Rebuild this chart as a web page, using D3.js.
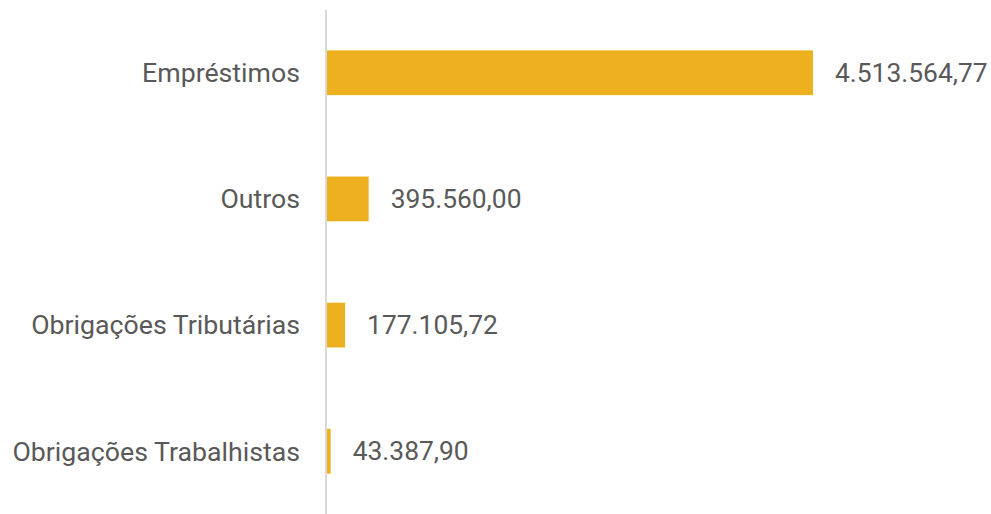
<!DOCTYPE html>
<html>
<head>
<meta charset="utf-8">
<script src="https://cdn.jsdelivr.net/npm/d3@7"></script>
<style>
  body { margin: 0; background: #fff; }
  text { font-family: Roboto, "Noto Sans", sans-serif; }
</style>
</head>
<body>
<script>
// data
var categories = ["Empréstimos", "Outros", "Obrigações Tributárias", "Obrigações Trabalhistas"];
var values = [4513564.77, 395560.00, 177105.72, 43387.90];
var valueLabels = ["4.513.564,77", "395.560,00", "177.105,72", "43.387,90"];

var data = categories.map(function(c, i) {
  return {name: c, value: values[i], label: valueLabels[i]};
});

var width = 991, height = 514;
var axisX = 326;

var svg = d3.select("body").append("svg")
    .attr("width", width)
    .attr("height", height);

// scales
var y = d3.scaleBand()
    .domain(categories)
    .range([10, 514])
    .paddingInner(0.645)
    .paddingOuter(0.32);

var x = d3.scaleLinear()
    .domain([0, d3.max(values)])
    .range([axisX, 813]);

// bars
svg.selectAll(".bar")
    .data(data)
  .enter().append("rect")
    .attr("class", "bar")
    .attr("x", x(0))
    .attr("y", function(d) { return y(d.name); })
    .attr("width", function(d) { return x(d.value) - x(0); })
    .attr("height", y.bandwidth())
    .attr("fill", "#edb11f");

// vertical axis line
svg.append("line")
    .attr("x1", axisX).attr("x2", axisX)
    .attr("y1", 10).attr("y2", height)
    .attr("stroke", "#d9d9d9")
    .attr("stroke-width", 2);

// category labels
svg.selectAll(".cat")
    .data(data)
  .enter().append("text")
    .attr("class", "cat")
    .attr("x", axisX - 26)
    .attr("y", function(d) { return y(d.name) + y.bandwidth() / 2; })
    .attr("dy", "0.35em")
    .attr("text-anchor", "end")
    .attr("font-size", 26.7)
    .attr("fill", "#595959")
    .text(function(d) { return d.name; });

// value labels
svg.selectAll(".val")
    .data(data)
  .enter().append("text")
    .attr("class", "val")
    .attr("x", function(d) { return x(d.value) + 22; })
    .attr("y", function(d) { return y(d.name) + y.bandwidth() / 2; })
    .attr("dy", "0.35em")
    .attr("font-size", 26.4)
    .attr("fill", "#595959")
    .text(function(d) { return d.label; });
</script>
</body>
</html>
